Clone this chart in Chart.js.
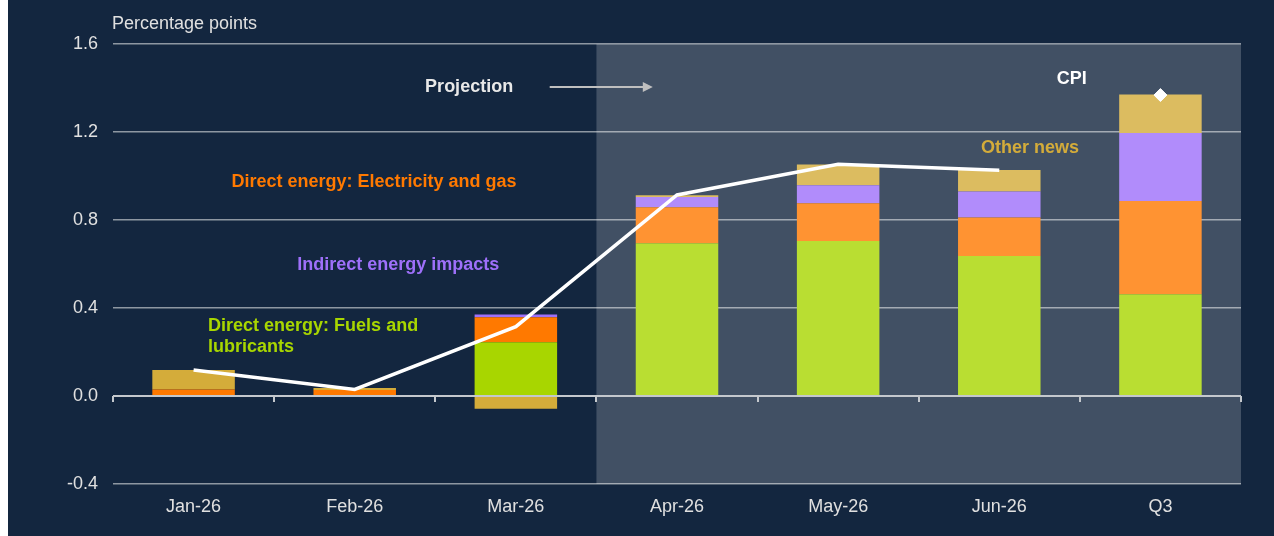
<!DOCTYPE html>
<html>
<head>
<meta charset="utf-8">
<script src="https://cdn.jsdelivr.net/npm/chart.js@4.4.1/dist/chart.umd.min.js"></script>
<style>
    html, body { margin: 0; padding: 0; background: #ffffff; }
    #wrap { position: absolute; left: 8px; top: 0; width: 1266px; height: 536px; background: #13263f; }
</style>
</head>
<body>
<div id="wrap"><canvas id="myChart"></canvas></div>
<script>
const categories = ['Jan-26', 'Feb-26', 'Mar-26', 'Apr-26', 'May-26', 'Jun-26', 'Q3'];

// contributions, percentage points
const fuels = [0, 0, 0.244, 0.694, 0.705, 0.636, 0.462];
const electricity = [0.029, 0.027, 0.114, 0.164, 0.171, 0.175, 0.424];
const indirect = [0, 0, 0.013, 0.047, 0.082, 0.118, 0.309];
const otherNews = [0.089, 0.009, -0.058, 0.007, 0.094, 0.098, 0.175];
const cpiMonthly = [0.118, 0.03, 0.315, 0.914, 1.053, 1.026, null];
const cpiQuarter = [null, null, null, null, null, null, 1.368];

const yTicks = [-0.4, 0.0, 0.4, 0.8, 1.2, 1.6];
const projectionStart = 3; // first projected category

const green = '#a8d600';
const orange = '#ff7900';
const purple = '#9e70fa';
const gold = '#d4ac3a';

// text labels placed in data units (category index, value)
const notes = [
    { text: 'Projection', x: 1.71, y: 1.405, color: '#e8e8e8', align: 'center' },
    { text: 'CPI', x: 5.45, y: 1.44, color: '#ffffff', align: 'center' },
    { text: 'Other news', x: 5.19, y: 1.127, color: gold, align: 'center' },
    { text: 'Direct energy: Electricity and gas', x: 1.12, y: 0.973, color: orange, align: 'center' },
    { text: 'Indirect energy impacts', x: 1.27, y: 0.595, color: purple, align: 'center' },
    { text: 'Direct energy: Fuels and', x: 0.09, y: 0.318, color: green, align: 'left' },
    { text: 'lubricants', x: 0.09, y: 0.223, color: green, align: 'left' }
];

const projectionShade = {
    id: 'projectionShade',
    afterDatasetsDraw(chart) {
        const { ctx, chartArea, scales } = chart;
        const x = scales.x.getPixelForValue(projectionStart - 0.5);
        ctx.save();
        ctx.fillStyle = 'rgba(255,255,255,0.195)';
        ctx.fillRect(x, chartArea.top, chartArea.right - x, chartArea.bottom - chartArea.top);

        // zero line with category tick marks
        const y0 = scales.y.getPixelForValue(0);
        ctx.strokeStyle = '#c4c8cd';
        ctx.lineWidth = 2;
        ctx.beginPath();
        ctx.moveTo(chartArea.left, y0);
        ctx.lineTo(chartArea.right, y0);
        for (let i = 0; i <= categories.length; i++) {
            const tx = Math.round(scales.x.getPixelForValue(i - 0.5));
            ctx.moveTo(tx, y0);
            ctx.lineTo(tx, y0 + 6);
        }
        ctx.stroke();
        ctx.restore();
    },
    afterDraw(chart) {
        const { ctx, chartArea, scales } = chart;
        ctx.save();
        ctx.textBaseline = 'middle';
        ctx.font = '18px "Liberation Sans", Arial, sans-serif';
        ctx.fillStyle = '#e0e0e0';
        ctx.textAlign = 'left';
        ctx.fillText('Percentage points', chartArea.left - 1, 24);

        ctx.font = 'bold 18px "Liberation Sans", Arial, sans-serif';
        notes.forEach(n => {
            ctx.fillStyle = n.color;
            ctx.textAlign = n.align;
            ctx.fillText(n.text, scales.x.getPixelForValue(n.x), scales.y.getPixelForValue(n.y));
        });

        // arrow pointing into the projection period
        const ay = scales.y.getPixelForValue(1.405);
        const ax1 = scales.x.getPixelForValue(2.21);
        const ax2 = scales.x.getPixelForValue(2.85);
        ctx.strokeStyle = '#bfbfbf';
        ctx.fillStyle = '#bfbfbf';
        ctx.lineWidth = 2;
        ctx.beginPath();
        ctx.moveTo(ax1, ay);
        ctx.lineTo(ax2 - 8, ay);
        ctx.stroke();
        ctx.beginPath();
        ctx.moveTo(ax2, ay);
        ctx.lineTo(ax2 - 10, ay - 5);
        ctx.lineTo(ax2 - 10, ay + 5);
        ctx.closePath();
        ctx.fill();
        ctx.restore();
    }
};

function barSet(label, data, color) {
    return {
        type: 'bar',
        label: label,
        data: data,
        backgroundColor: color,
        borderWidth: 0,
        stack: 'energy',
        order: 2,
        barPercentage: 1,
        categoryPercentage: 0.512
    };
}

const ctx = document.getElementById('myChart').getContext('2d');
new Chart(ctx, {
    data: {
        labels: categories,
        datasets: [
            barSet('Direct energy: Fuels and lubricants', fuels, green),
            barSet('Direct energy: Electricity and gas', electricity, orange),
            barSet('Indirect energy impacts', indirect, purple),
            barSet('Other news', otherNews, gold),
            {
                type: 'line',
                label: 'CPI',
                data: cpiMonthly,
                borderColor: '#ffffff',
                borderWidth: 3.5,
                pointRadius: 0,
                tension: 0,
                order: 0
            },
            {
                type: 'line',
                label: 'CPI Q3',
                data: cpiQuarter,
                showLine: false,
                pointStyle: 'rectRot',
                pointRadius: 6.5,
                pointBackgroundColor: '#ffffff',
                pointBorderColor: '#ffffff',
                pointBorderWidth: 1,
                order: 0
            }
        ]
    },
    options: {
        responsive: true,
        maintainAspectRatio: false,
        animation: false,
        layout: {
            padding: { top: 44, right: 33, left: 0, bottom: 0 }
        },
        plugins: {
            legend: { display: false },
            tooltip: { enabled: false }
        },
        scales: {
            x: {
                stacked: true,
                grid: { display: false },
                border: { display: false },
                ticks: {
                    color: '#e0e0e0',
                    padding: 4,
                    font: { family: '"Liberation Sans", Arial, sans-serif', size: 18 }
                },
                afterFit: (scale) => { scale.height = 52; }
            },
            y: {
                stacked: true,
                min: -0.4,
                max: 1.6,
                afterBuildTicks: (scale) => {
                    scale.ticks = yTicks.map(v => ({ value: v }));
                },
                grid: {
                    color: '#8e97a2',
                    lineWidth: 1.5,
                    drawTicks: false
                },
                border: { display: false },
                ticks: {
                    color: '#e0e0e0',
                    padding: 15,
                    font: { family: '"Liberation Sans", Arial, sans-serif', size: 18 },
                    callback: (value) => value.toFixed(1)
                },
                afterFit: (scale) => { scale.width = 105; }
            }
        }
    },
    plugins: [projectionShade]
});
</script>
</body>
</html>
